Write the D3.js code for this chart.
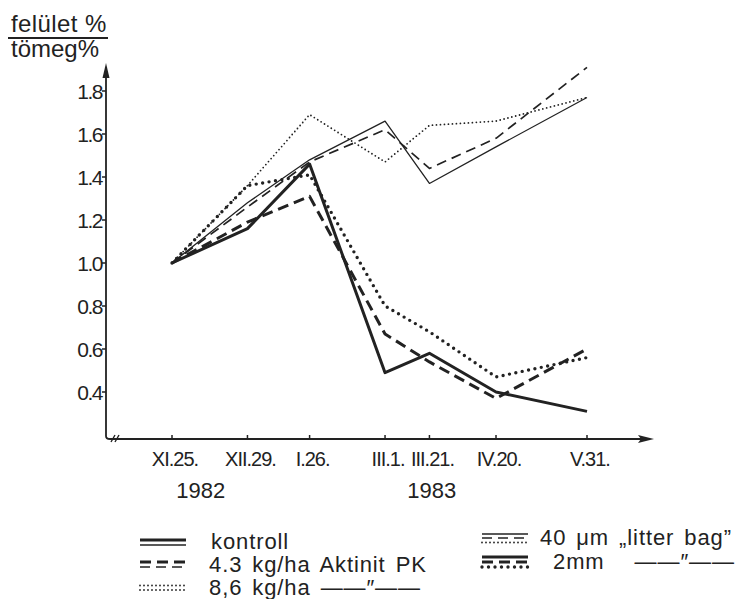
<!DOCTYPE html>
<html>
<head>
<meta charset="utf-8">
<script src="https://cdn.jsdelivr.net/npm/d3@7"></script>
<style>
  body { margin: 0; background: #fff; }
  svg text { font-family: "Liberation Sans", Arial, sans-serif; fill: #222; }
</style>
</head>
<body>
<div id="chart"></div>
<script>
// sampling dates (1982-83) and their labels
const dates = ["1982-11-25", "1982-12-29", "1983-01-26", "1983-03-01", "1983-03-21", "1983-04-20", "1983-05-31"];
const dateLabels = ["XI.25.", "XII.29.", "I.26.", "III.1.", "III.21.", "IV.20.", "V.31."];
const yearLabels = [["1982-12-08", "1982"], ["1983-03-22", "1983"]];
const yTicks = [0.4, 0.6, 0.8, 1.0, 1.2, 1.4, 1.6, 1.8];

// felület% / tömeg% ratio, 2 mm mesh bags (thick lines)
const kontroll2mm = [1.0, 1.16, 1.46, 0.49, 0.58, 0.40, 0.31];
const akt43_2mm = [1.0, 1.19, 1.31, 0.67, 0.54, 0.37, 0.60];
const akt86_2mm = [1.0, 1.36, 1.41, 0.80, 0.68, 0.47, 0.56];
// 40 um "litter bag" (thin lines)
const kontroll40 = [1.0, 1.28, 1.48, 1.66, 1.37, 1.54, 1.77];
const akt43_40 = [1.0, 1.26, 1.47, 1.62, 1.44, 1.58, 1.91];
const akt86_40 = [1.0, 1.36, 1.69, 1.47, 1.64, 1.66, 1.77];

const width = 747, height = 599;
const ink = "#222";

const styles = {
  thickSolid: { w: 3, dash: null, cap: "butt" },
  thickDash: { w: 3, dash: "11,6", cap: "butt" },
  thickDot: { w: 3.4, dash: "0,6.5", cap: "round" },
  thinSolid: { w: 1.3, dash: null, cap: "butt" },
  thinDash: { w: 1.7, dash: "10,6", cap: "butt" },
  thinDot: { w: 1.8, dash: "0,4", cap: "round" }
};

const series = [
  { values: kontroll40, st: styles.thinSolid },
  { values: akt43_40, st: styles.thinDash },
  { values: akt86_40, st: styles.thinDot },
  { values: akt86_2mm, st: styles.thickDot },
  { values: akt43_2mm, st: styles.thickDash },
  { values: kontroll2mm, st: styles.thickSolid }
];

const parse = d3.timeParse("%Y-%m-%d");
const x = d3.scaleTime()
  .domain([parse(dates[0]), parse(dates[dates.length - 1])])
  .range([172, 587]);
const y = d3.scaleLinear().domain([0.4, 1.8]).range([392, 91]);

const svg = d3.select("#chart").append("svg")
  .attr("width", width).attr("height", height)
  .attr("viewBox", `0 0 ${width} ${height}`);

function applyStyle(sel, st) {
  sel.attr("fill", "none").attr("stroke", ink)
    .attr("stroke-width", st.w)
    .attr("stroke-linecap", st.cap)
    .attr("stroke-linejoin", "round");
  if (st.dash) sel.attr("stroke-dasharray", st.dash);
  return sel;
}

// title (fraction)
svg.append("text").attr("x", 11).attr("y", 32).attr("font-size", 24).attr("letter-spacing", 0.4).text("felület %");
svg.append("line").attr("x1", 8).attr("x2", 108).attr("y1", 38).attr("y2", 38)
  .attr("stroke", ink).attr("stroke-width", 1.8);
svg.append("text").attr("x", 11).attr("y", 57).attr("font-size", 24).text("tömeg%");

// axes
const axisY = 439, axisX = 106;
svg.append("path")
  .attr("d", `M${axisX},72 L${axisX},${axisY - 3} Q${axisX},${axisY} ${axisX + 4},${axisY} L648,${axisY}`)
  .attr("fill", "none").attr("stroke", ink).attr("stroke-width", 1.8);
svg.append("path").attr("d", `M${axisX},63 L${axisX - 3.5},78 L${axisX + 3.5},78 Z`).attr("fill", ink);
svg.append("path").attr("d", `M654,${axisY} L638,${axisY - 4} L641,${axisY} L638,${axisY + 4} Z`).attr("fill", ink);
// axis break marks
svg.append("path").attr("d", `M111,${axisY + 3} L115,${axisY - 4} M115,${axisY + 3} L119,${axisY - 4}`)
  .attr("stroke", ink).attr("stroke-width", 1.4);

// y ticks
const yAxis = svg.append("g");
yTicks.forEach(v => {
  yAxis.append("line").attr("x1", axisX - 4).attr("x2", axisX).attr("y1", y(v)).attr("y2", y(v))
    .attr("stroke", ink).attr("stroke-width", 1.5);
  yAxis.append("text").attr("x", axisX - 4).attr("y", y(v) + 8)
    .attr("text-anchor", "end").attr("font-size", 21).attr("letter-spacing", -1.5)
    .text(d3.format(".1f")(v));
});

// x ticks
const xAxis = svg.append("g");
dates.forEach((d, i) => {
  const px = x(parse(d));
  xAxis.append("line").attr("x1", px).attr("x2", px).attr("y1", axisY - 4).attr("y2", axisY + 1)
    .attr("stroke", ink).attr("stroke-width", 1.5);
  xAxis.append("text").attr("x", px + 3).attr("y", axisY + 27)
    .attr("text-anchor", "middle").attr("font-size", 20).attr("letter-spacing", -1)
    .text(dateLabels[i]);
});
yearLabels.forEach(([d, t]) => {
  xAxis.append("text").attr("x", x(parse(d))).attr("y", 498)
    .attr("text-anchor", "middle").attr("font-size", 22).text(t);
});

// lines
const line = d3.line()
  .x((v, i) => x(parse(dates[i])))
  .y(v => y(v));
series.forEach(s => {
  applyStyle(svg.append("path").datum(s.values).attr("d", line), s.st);
});

// legend
const legend = svg.append("g");
function legendSymbol(x0, yc, list) {
  list.forEach(([dy, st]) => {
    applyStyle(legend.append("line")
      .attr("x1", x0).attr("x2", x0 + 46).attr("y1", yc + dy).attr("y2", yc + dy), st);
  });
}
const ditto = "——\u2033——";
legendSymbol(140, 542, [[-2, styles.thickSolid], [3, styles.thinSolid]]);
legendSymbol(140, 564, [[-2, styles.thickDash], [3, styles.thinDash]]);
legendSymbol(140, 587, [[-1.5, styles.thinDot], [3, styles.thinDot]]);
legendSymbol(482, 538, [[-4, styles.thinSolid], [0, styles.thinDash], [4.5, styles.thinDot]]);
legendSymbol(482, 562, [[-5, styles.thickSolid], [0, styles.thickDash], [5, styles.thickDot]]);

const legendText = [
  [211, 549, "kontroll"],
  [209, 572, "4.3 kg/ha Aktinit PK"],
  [209, 595, "8,6 kg/ha " + ditto],
  [540, 545, "40 μm „litter bag”"],
  [553, 569, "2mm   " + ditto]
];
legendText.forEach(([lx, ly, t]) => {
  legend.append("text").attr("x", lx).attr("y", ly).attr("font-size", 22)
    .attr("letter-spacing", 0.9).attr("word-spacing", 3)
    .style("white-space", "pre").text(t);
});
</script>
</body>
</html>
